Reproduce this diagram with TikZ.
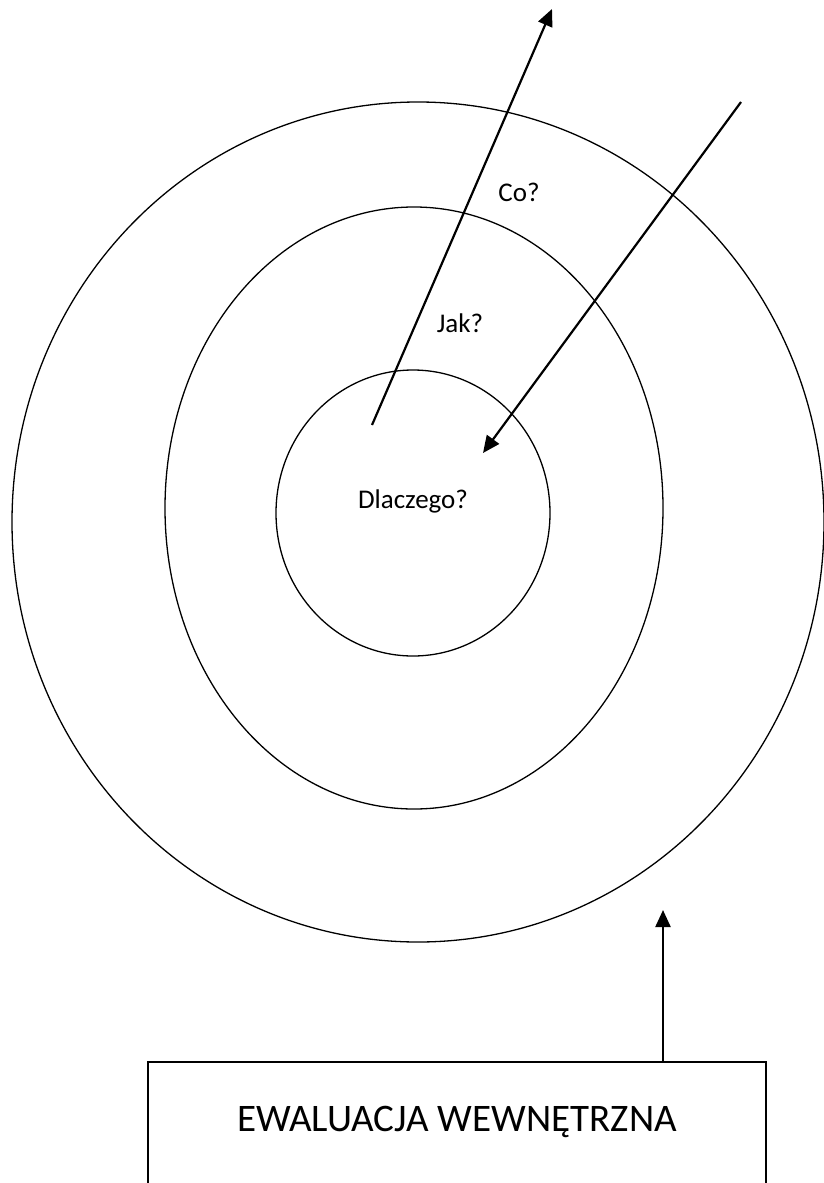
\documentclass[tikz,border=0pt]{standalone}
\usepackage{fontspec}
\setmainfont{Carlito}
\usetikzlibrary{arrows.meta}
\tikzset{
  ring/.style={draw=black, line width=1.3pt},
  arr/.style={draw=black, line width=2.2pt, -{Triangle[length=17pt,width=15pt]}},
  lbl/.style={font=\fontsize{27}{32}\selectfont, inner sep=0pt},
  boxlbl/.style={font=\fontsize{39}{46}\selectfont, inner sep=0pt},
  frame/.style={draw=black, line width=2pt}
}
\begin{document}
\begin{tikzpicture}[x=1pt,y=-1pt]
\useasboundingbox (0,0) rectangle (823,1183);
\fill[white] (0,0) rectangle (823,1183);
% rings
\draw[ring] (418,522) ellipse [x radius=406pt, y radius=420pt];
\draw[ring] (414,508) ellipse [x radius=249pt, y radius=301pt];
\draw[ring] (413,513) ellipse [x radius=137pt, y radius=143pt];
% labels
\node[lbl] (co) at (519,192) {Co?};
\node[lbl] (jak) at (460,323) {Jak?};
\node[lbl] (dlaczego) at (413,501) {Dlaczego?};
% box
\draw[frame] (148,1200) -- (148,1062) -- (766,1062) -- (766,1200);
\node[boxlbl] (ewal) at (457,1122) {EWALUACJA WEWNĘTRZNA};
% arrow coordinates
\coordinate (a1s) at (372,425);
\coordinate (a1e) at (552,9);
\coordinate (a2s) at (741,102);
\coordinate (a2e) at (483,453);
\coordinate (a3s) at (663,1062);
\coordinate (a3e) at (663,910);
\draw[arr] (a1s) -- (a1e);
\draw[arr] (a2s) -- (a2e);
\draw[arr] (a3s) -- (a3e);
\end{tikzpicture}
\end{document}
